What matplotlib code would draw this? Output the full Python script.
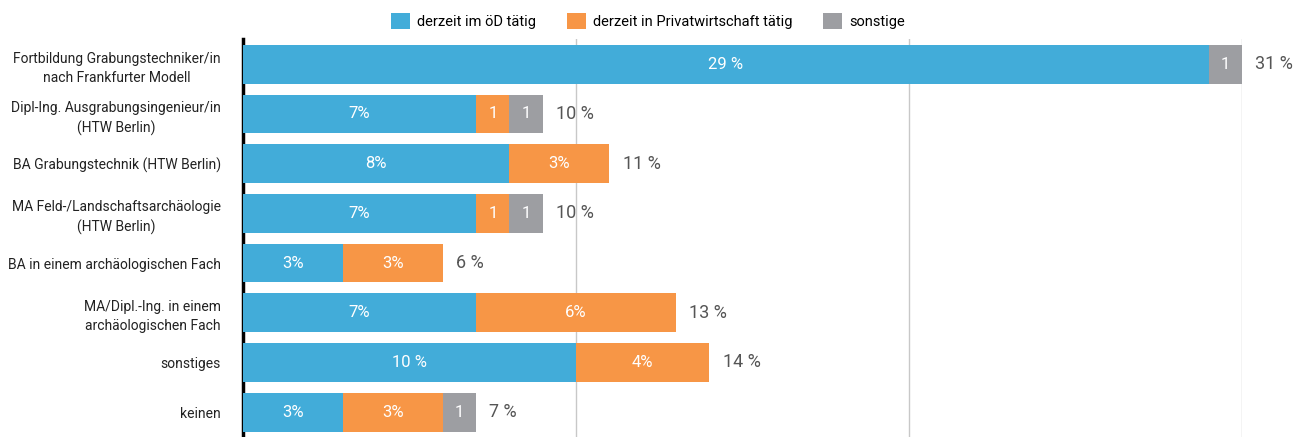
import matplotlib.pyplot as plt

plt.rcParams['font.family'] = ['Roboto', 'DejaVu Sans']

categories = [
    "Fortbildung Grabungstechniker/in\nnach Frankfurter Modell",
    "Dipl-Ing. Ausgrabungsingenieur/in\n(HTW Berlin)",
    "BA Grabungstechnik (HTW Berlin)",
    "MA Feld-/Landschaftsarchäologie\n(HTW Berlin)",
    "BA in einem archäologischen Fach",
    "MA/Dipl.-Ing. in einem\narchäologischen Fach",
    "sonstiges",
    "keinen",
]
oed = [29, 7, 8, 7, 3, 7, 10, 3]
privat = [0, 1, 3, 1, 3, 6, 4, 3]
sonstige = [1, 1, 0, 1, 0, 0, 0, 1]

oed_labels = ["29 %", "7%", "8%", "7%", "3%", "7%", "10 %", "3%"]
privat_labels = ["", "1", "3%", "1", "3%", "6%", "4%", "3%"]
sonstige_labels = ["1", "1", "", "1", "", "", "", "1"]
total_labels = ["31 %", "10 %", "11 %", "10 %", "6 %", "13 %", "14 %", "7 %"]

series_names = ["derzeit im öD tätig", "derzeit in Privatwirtschaft tätig", "sonstige"]
colors = ["#42acd9", "#f79646", "#9d9ea2"]

fig = plt.figure(figsize=(13.09, 4.37), dpi=100)
ax = fig.add_axes([243 / 1309, 0.0, 999 / 1309, 0.91])

y = list(range(len(categories)))
left = [0] * len(categories)
for vals, labs, name, col in zip([oed, privat, sonstige],
                                 [oed_labels, privat_labels, sonstige_labels],
                                 series_names, colors):
    bars = ax.barh(y, vals, left=left, height=0.78, color=col, label=name, zorder=3)
    for b, v, lab in zip(bars, vals, labs):
        if v > 0 and lab:
            ax.text(b.get_x() + b.get_width() / 2, b.get_y() + b.get_height() / 2, lab,
                    ha='center', va='center', color='white', fontsize=12, zorder=4)
    left = [l + v for l, v in zip(left, vals)]

for i, (tot, lab) in enumerate(zip(left, total_labels)):
    ax.text(tot + 0.4, i, lab, ha='left', va='center', color='#555555',
            fontsize=13, clip_on=False)

ax.set_xlim(0, 30)
ax.set_ylim(7.5, -0.5)
ax.set_xticks([10, 20, 30])
ax.xaxis.grid(True, color='#c8c8c8', linewidth=1, zorder=0)
ax.tick_params(axis='x', length=0, labelbottom=False)
ax.tick_params(axis='y', length=0, pad=16)
ax.set_yticks(y)
ax.set_yticklabels(categories, fontsize=10, color='#222222')
for t in ax.get_yticklabels():
    t.set_multialignment('center')
    t.set_linespacing(1.45)
for s in ['top', 'right', 'bottom']:
    ax.spines[s].set_visible(False)
ax.spines['left'].set_linewidth(2.5)
ax.spines['left'].set_color('black')

handles, labels = ax.get_legend_handles_labels()
fig.legend(handles, labels, loc='upper center', bbox_to_anchor=(0.495, 1.0), ncol=3,
           frameon=False, fontsize=10.5, handlelength=1.3, handleheight=1.3,
           columnspacing=2.15, handletextpad=0.45)

fig.savefig("out.png", dpi=100)
